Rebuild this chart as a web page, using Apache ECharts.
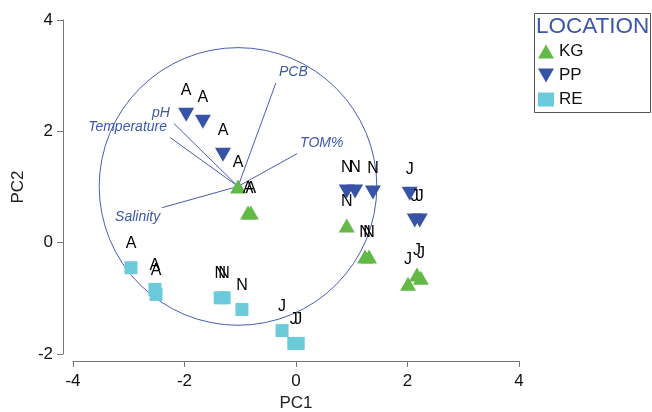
<!DOCTYPE html>
<html>
<head>
<meta charset="utf-8">
<script src="https://cdn.jsdelivr.net/npm/echarts@6/dist/echarts.min.js"></script>
<style>html,body{margin:0;padding:0;background:#fff;}#c{width:652px;height:412px;}</style>
</head>
<body>
<div id="c"></div>
<script>
// ---- data ----
const kgX = [-1.04, -0.86, -0.81, 0.91, 1.24, 1.31, 2.01, 2.17, 2.24];
const kgY = [1.01, 0.54, 0.54, 0.31, -0.25, -0.25, -0.74, -0.57, -0.63];
const kgLab = ['A', 'A', 'A', 'N', 'N', 'N', 'J', 'J', 'J'];

const ppX = [-1.97, -1.67, -1.31, 0.91, 1.06, 1.38, 2.04, 2.13, 2.22];
const ppY = [2.30, 2.17, 1.58, 0.92, 0.92, 0.90, 0.88, 0.40, 0.40];
const ppLab = ['A', 'A', 'A', 'N', 'N', 'N', 'J', 'J', 'J'];

const reX = [-2.96, -2.53, -2.51, -1.36, -1.29, -0.97, -0.25, -0.04, 0.04];
const reY = [-0.45, -0.84, -0.93, -0.99, -0.99, -1.20, -1.58, -1.81, -1.81];
const reLab = ['A', 'A', 'A', 'N', 'N', 'N', 'J', 'J', 'J'];

const varNames = ['PCB', 'pH', 'Temperature', 'TOM%', 'Salinity'];
const varX = [-0.36, -2.19, -2.26, 0.02, -2.40];
const varY = [2.87, 2.14, 1.89, 1.60, 0.63];
const origin = [-1.04, 1.01];
const circleRadius = 2.49;

const xTicks = [-4, -2, 0, 2, 4];
const yTicks = [-2, 0, 2, 4];
const groups = ['KG', 'PP', 'RE'];

// ---- styles ----
const FONT = 'Liberation Sans, Arial, sans-serif';
const BLUE_T = '#3d56ad';
const varLabelStyle = [
  {align: 'left', off: [3, -11]},
  {align: 'right', off: [-4, -10]},
  {align: 'right', off: [-3, -10]},
  {align: 'left', off: [3, -10]},
  {align: 'right', off: [-2, 10]}
];

function pts(xs, ys, ls) { return xs.map((x, i) => [x, ys[i], ls[i]]); }

const pointLabel = {
  show: true, position: 'inside', offset: [0, -24],
  formatter: p => p.data[2], color: '#000', fontSize: 16, fontFamily: FONT
};

const chart = echarts.init(document.getElementById('c'), null, {renderer: 'canvas'});
chart.setOption({
  animation: false,
  backgroundColor: '#fff',
  grid: {left: 73, right: 133, top: 20, bottom: 58, containLabel: false, outerBoundsMode: 'none'},
  xAxis: {
    type: 'value', min: xTicks[0], max: xTicks[xTicks.length - 1], interval: 2,
    offset: 7,
    name: 'PC1', nameLocation: 'middle', nameGap: 33,
    nameTextStyle: {fontSize: 17, color: '#222', fontFamily: FONT},
    axisLine: {onZero: false, lineStyle: {color: '#777', width: 1}},
    axisTick: {length: 6, lineStyle: {color: '#777'}},
    axisLabel: {fontSize: 17, color: '#111', fontFamily: FONT, margin: 12},
    splitLine: {show: false}
  },
  yAxis: {
    type: 'value', min: yTicks[0], max: yTicks[yTicks.length - 1], interval: 2,
    offset: 10,
    name: 'PC2', nameLocation: 'middle', nameGap: 34, nameRotate: 90,
    nameTextStyle: {fontSize: 17, color: '#222', fontFamily: FONT},
    axisLine: {onZero: false, lineStyle: {color: '#777', width: 1}},
    axisTick: {length: 6, lineStyle: {color: '#777'}},
    axisLabel: {fontSize: 17, color: '#111', fontFamily: FONT, margin: 10},
    splitLine: {show: false}
  },
  legend: {
    orient: 'vertical', left: 538, top: 43, padding: 0,
    itemWidth: 16, itemHeight: 14, itemGap: 7,
    data: groups,
    textStyle: {fontSize: 17, color: '#111', fontFamily: FONT, lineHeight: 17}
  },
  graphic: [
    {type: 'rect', shape: {x: 534.5, y: 13.5, width: 116, height: 99},
     style: {fill: 'none', stroke: '#555', lineWidth: 1}, z: 10},
    {type: 'text', x: 536, y: 27,
     style: {text: 'LOCATION', fill: BLUE_T, font: '22.5px ' + FONT, verticalAlign: 'middle'}, z: 10}
  ],
  series: [
    {
      type: 'custom', name: 'circle', silent: true, z: 1,
      data: [[origin[0], origin[1], circleRadius]],
      renderItem: function (params, api) {
        const c = api.coord([api.value(0), api.value(1)]);
        const r = api.size([api.value(2), 0])[0];
        return {type: 'circle', shape: {cx: c[0], cy: c[1], r: r},
                style: {fill: 'none', stroke: '#4a5db5', lineWidth: 1}};
      }
    },
    {
      type: 'custom', name: 'vars', silent: true, z: 1,
      data: varX.map((x, i) => [x, varY[i]]),
      renderItem: function (params, api) {
        const i = params.dataIndex;
        const p0 = api.coord(origin);
        const p1 = api.coord([api.value(0), api.value(1)]);
        const st = varLabelStyle[i];
        return {type: 'group', children: [
          {type: 'line', shape: {x1: p0[0], y1: p0[1], x2: p1[0], y2: p1[1]},
           style: {stroke: '#4a5db5', lineWidth: 1}},
          {type: 'text', style: {text: varNames[i], x: p1[0] + st.off[0], y: p1[1] + st.off[1],
            fill: BLUE_T, font: 'italic 14px ' + FONT, align: st.align, verticalAlign: 'middle'}}
        ]};
      }
    },
    {
      type: 'scatter', name: 'KG', z: 3,
      symbol: 'triangle', symbolSize: [16, 14],
      itemStyle: {color: '#62b946', opacity: 1},
      label: pointLabel,
      data: pts(kgX, kgY, kgLab)
    },
    {
      type: 'scatter', name: 'PP', z: 3,
      symbol: 'path://M0,0L16,0L8,14Z', symbolSize: [16, 14],
      itemStyle: {color: '#3753a6', opacity: 1},
      label: pointLabel,
      data: pts(ppX, ppY, ppLab)
    },
    {
      type: 'scatter', name: 'RE', z: 3,
      symbol: 'rect', symbolSize: [13, 13],
      itemStyle: {color: '#6ccbdb', opacity: 1},
      label: pointLabel,
      data: pts(reX, reY, reLab)
    }
  ]
});
</script>
</body>
</html>
